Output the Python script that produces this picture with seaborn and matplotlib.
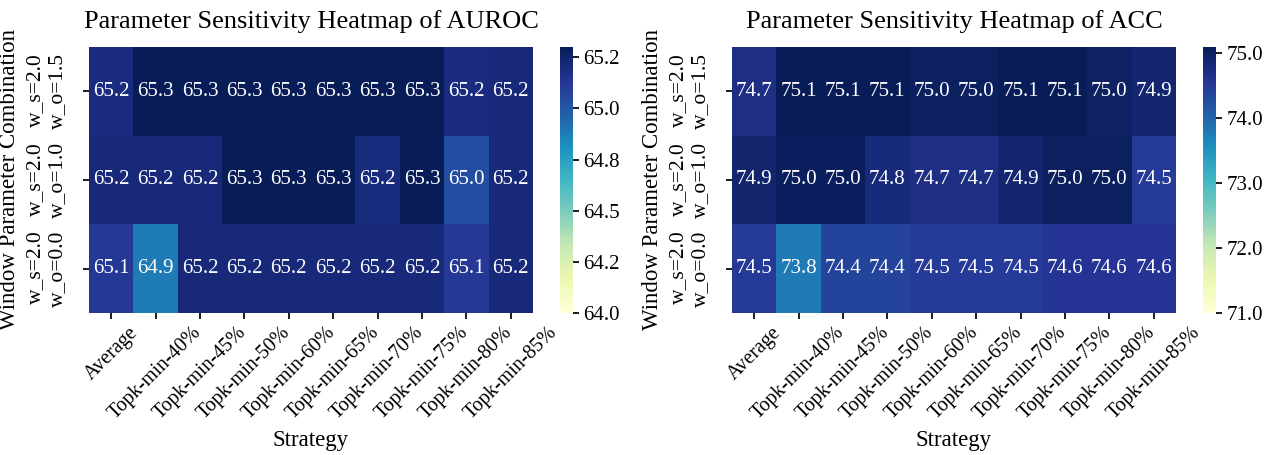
import numpy as np
import pandas as pd
import matplotlib
matplotlib.use("Agg")
import matplotlib.pyplot as plt
import seaborn as sns

strategies = ["Average", "Topk-min-40%", "Topk-min-45%", "Topk-min-50%", "Topk-min-60%",
              "Topk-min-65%", "Topk-min-70%", "Topk-min-75%", "Topk-min-80%", "Topk-min-85%"]
windows = ["w_s=2.0\nw_o=1.5", "w_s=2.0\nw_o=1.0", "w_s=2.0\nw_o=0.0"]

auroc_r1 = [65.19, 65.30, 65.30, 65.30, 65.30, 65.30, 65.30, 65.30, 65.19, 65.21]
auroc_r2 = [65.21, 65.21, 65.21, 65.30, 65.30, 65.30, 65.20, 65.30, 65.04, 65.21]
auroc_r3 = [65.12, 64.88, 65.21, 65.21, 65.21, 65.21, 65.21, 65.21, 65.12, 65.21]

acc_r1 = [74.70, 75.10, 75.10, 75.10, 75.03, 75.03, 75.10, 75.10, 75.00, 74.90]
acc_r2 = [74.92, 75.04, 75.04, 74.80, 74.72, 74.72, 74.90, 75.02, 75.02, 74.50]
acc_r3 = [74.52, 73.80, 74.40, 74.40, 74.50, 74.50, 74.50, 74.58, 74.58, 74.58]

auroc = pd.DataFrame([auroc_r1, auroc_r2, auroc_r3], index=windows, columns=strategies)
acc = pd.DataFrame([acc_r1, acc_r2, acc_r3], index=windows, columns=strategies)

sns.set_theme(style="white")
plt.rcParams["font.family"] = ["Liberation Serif", "DejaVu Serif"]
plt.rcParams["text.color"] = "black"
plt.rcParams["axes.labelcolor"] = "black"
plt.rcParams["xtick.color"] = "black"
plt.rcParams["ytick.color"] = "black"

W, H = 1274, 455
fig = plt.figure(figsize=(W / 100, H / 100), dpi=100)

def box(x0, x1, y0, y1):
    return [x0 / W, 1 - y1 / H, (x1 - x0) / W, (y1 - y0) / H]

ax1 = fig.add_axes(box(89, 533, 47, 313))
cax1 = fig.add_axes(box(560, 573, 47, 313))
ax2 = fig.add_axes(box(732, 1176, 47, 313))
cax2 = fig.add_axes(box(1203, 1216, 47, 313))

configs = [
    (ax1, cax1, auroc, "Parameter Sensitivity Heatmap of AUROC", 64.0, 65.30,
     [64.0, 64.25, 64.5, 64.75, 65.0, 65.25]),
    (ax2, cax2, acc, "Parameter Sensitivity Heatmap of ACC", 71.0, 75.10,
     [71.0, 72.0, 73.0, 74.0, 75.0]),
]

for ax, cax, df, title, vmin, vmax, ticks in configs:
    sns.heatmap(df, ax=ax, cbar_ax=cax, cmap="YlGnBu", vmin=vmin, vmax=vmax, annot=True, fmt=".1f",
                annot_kws={"size": 15}, cbar_kws={"ticks": ticks, "format": "%.1f"})
    ax.set_title(title, fontsize=19, pad=14, color="black")
    ax.set_xlabel("Strategy", fontsize=16.5, labelpad=5)
    ax.set_ylabel("Window Parameter Combination", fontsize=16.5, labelpad=4)
    ax.tick_params(axis="x", labelsize=14.5, length=4, bottom=True, colors="black")
    ax.tick_params(axis="y", labelsize=15.5, length=4, left=True, pad=12, colors="black")
    plt.setp(ax.get_xticklabels(), rotation=45, ha="center")
    plt.setp(ax.get_yticklabels(), rotation=90, va="center", ha="right")
    cax.tick_params(labelsize=15, length=4, right=True, colors="black")

fig.savefig("out.png", dpi=100)
